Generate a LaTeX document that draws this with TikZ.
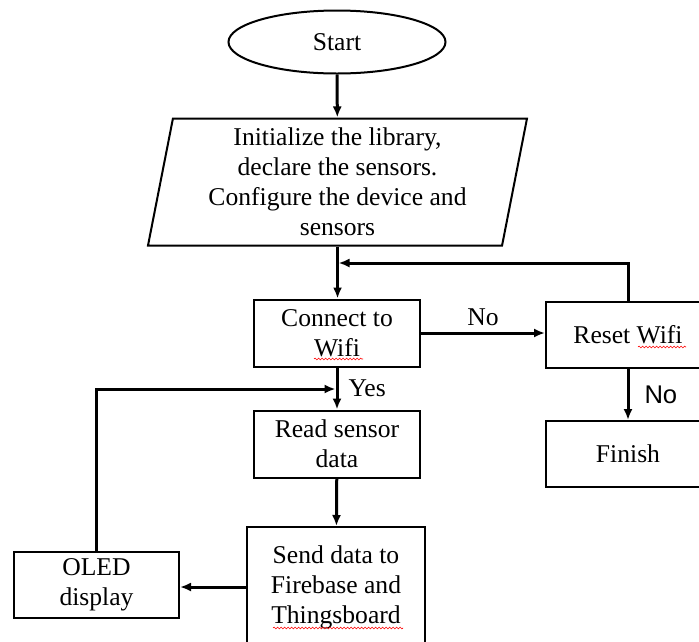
\documentclass[tikz,border=0pt]{standalone}
\usepackage{fontspec}
\setmainfont{Liberation Serif}
\newfontfamily\arialfont{Liberation Sans}
\usetikzlibrary{shapes.geometric, positioning, arrows.meta, decorations.pathmorphing}

\tikzset{
  caixa/.style={draw, line width=2pt, minimum width=166pt, minimum height=67pt, align=center, inner sep=0pt},
  seta/.style={line width=3pt, -{Latex[length=11pt,width=9pt]}},
  rotulo/.style={inner sep=0pt},
  ondas/.style={red, line width=0.6pt, decorate, decoration={snake, amplitude=0.9pt, segment length=3.5pt}}
}

\begin{document}
\begin{tikzpicture}[x=1pt, y=-1pt, font=\fontsize{25.6}{30}\selectfont]
		\useasboundingbox (0,0) rectangle (699,641);
		\clip (0,0) rectangle (699,641);
		
		% inicio e configuracao
		\node[draw, ellipse, line width=2pt, minimum width=217pt, minimum height=63pt, inner sep=0pt] (start) at (337,42) {Start};
		\node[draw, trapezium, trapezium left angle=77, trapezium right angle=103, trapezium stretches body, minimum width=379pt, minimum height=127pt, line width=2pt, align=center, inner sep=0pt] (init) at (337.5,182) {Initialize the library,\\declare the sensors.\\Configure the device and\\sensors};
		
		% caixas
		\node[caixa] (conn) at (337,333) {Connect to\\Wifi};
		\node[caixa, minimum width=164pt, minimum height=66pt] (reset) at (628,335) {Reset Wifi};
		\node[caixa, minimum width=164pt, minimum height=66pt] (finish) at (628,454) {Finish};
		\node[caixa] (read) at (337,444) {Read sensor\\data};
		\node[caixa, minimum width=178pt, minimum height=120pt] (send) at (336,587) {Send data to\\Firebase and\\Thingsboard};
		\node[caixa, minimum width=165pt, minimum height=66pt] (oled) at (96.5,585) {OLED\\display};
		
		% pontos de retorno
		\coordinate (r1) at (338.5,263);
		\coordinate (o1) at (335.5,389);
		
		% setas
		\draw[seta] (start) -- (init);
		\draw[seta] (init.south) -- (init.south |- conn.north);
		\draw[seta] (reset.north) |- (r1);
		\draw[seta] (conn.east) -- (conn.east -| reset.west) node[rotulo, midway, above=6pt] {No};
		\draw[seta] (reset) -- (finish) node[rotulo, midway, right=15pt] {\arialfont No};
		\draw[seta] (conn) -- (read) node[rotulo, midway, right=10pt] {Yes};
		\draw[seta] (read) -- (send);
		\draw[seta] (send.west) -- (send.west -| oled.east);
		\draw[seta] (oled.north) |- (o1);
		
		% sublinhado ortografico
		\draw[ondas] (314,359) -- (363,359);
		\draw[ondas] (638,347) -- (686,347);
		\draw[ondas] (273,628) -- (403,628);
\end{tikzpicture}
\end{document}
